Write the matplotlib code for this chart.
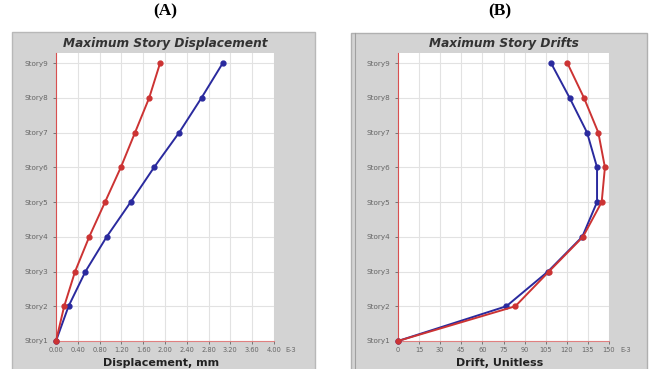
import matplotlib.pyplot as plt
from matplotlib.patches import Rectangle

# Story levels and results
stories = ['Story1', 'Story2', 'Story3', 'Story4', 'Story5', 'Story6', 'Story7', 'Story8', 'Story9']
levels = [1, 2, 3, 4, 5, 6, 7, 8, 9]

# (A) Maximum story displacement, E-3
disp_red = [0.00, 0.15, 0.35, 0.61, 0.90, 1.19, 1.45, 1.71, 1.91]
disp_blue = [0.00, 0.23, 0.54, 0.93, 1.37, 1.80, 2.26, 2.67, 3.06]
disp_ticks = [0.0, 0.4, 0.8, 1.2, 1.6, 2.0, 2.4, 2.8, 3.2, 3.6, 4.0]
disp_ticklabels = ['0.00', '0.40', '0.80', '1.20', '1.60', '2.00', '2.40', '2.80', '3.20', '3.60', '4.00']

# (B) Maximum story drifts, E-3
drift_red = [0.0, 83.4, 107.3, 131.5, 144.8, 147.1, 142.4, 132.2, 120.4]
drift_blue = [0.0, 77.0, 106.6, 131.0, 141.5, 141.5, 134.4, 122.0, 108.8]
drift_ticks = [0, 15, 30, 45, 60, 75, 90, 105, 120, 135, 150]
drift_ticklabels = ['0', '15', '30', '45', '60', '75', '90', '105', '120', '135', '150']

W, H = 656, 369
fig = plt.figure(figsize=(W / 100, H / 100), dpi=100)
fig.patch.set_facecolor('white')


def px_rect(x0, y0, x1, y1):
    # pixel box (top-left origin) -> figure fraction [l, b, w, h]
    return [x0 / W, 1 - y1 / H, (x1 - x0) / W, (y1 - y0) / H]


# background axes in pixel coordinates for the grey frames
bg = fig.add_axes([0, 0, 1, 1], zorder=-1)
bg.set_xlim(0, W)
bg.set_ylim(H, 0)
bg.axis('off')
bg.add_patch(Rectangle((12, 32), 303, 345, facecolor='#d3d3d3', edgecolor='#b8b8b8', lw=1.0))
bg.add_patch(Rectangle((351, 33), 296, 345, facecolor='#d3d3d3', edgecolor='#b0b0b0', lw=1.0))
bg.plot([355, 355], [33, H], color='#a0a0a0', lw=0.8)

red = '#cc3333'
blue = '#2a2a9e'


def panel(rect, xs_red, xs_blue, ticks, ticklabels, xmax, title, xlabel):
    ax = fig.add_axes(px_rect(*rect))
    ax.set_facecolor('white')
    ax.plot(xs_blue, levels, color=blue, lw=1.4, marker='o', ms=3.5, clip_on=False, zorder=3)
    ax.plot(xs_red, levels, color=red, lw=1.4, marker='o', ms=3.5, clip_on=False, zorder=4)
    ax.set_xlim(0, xmax)
    ax.set_ylim(1, 9.29)
    ax.set_xticks(ticks)
    ax.set_xticklabels(ticklabels)
    ax.set_yticks(levels)
    ax.set_yticklabels(stories)
    ax.grid(True, color='#e2e2e2', lw=0.8)
    ax.set_axisbelow(True)
    for s in ['top', 'right']:
        ax.spines[s].set_visible(False)
    ax.spines['left'].set_color('#d85050')
    ax.spines['bottom'].set_color('#e08080')
    ax.tick_params(labelsize=4.8, colors='#666666', length=2.5, width=0.6, pad=2)
    ax.tick_params(axis='y', labelsize=5.2, pad=3)
    width_px = rect[2] - rect[0]
    height_px = rect[3] - rect[1]
    ax.text(1 + 11 / width_px, -8.5 / height_px, 'E-3', transform=ax.transAxes, fontsize=4.8,
            color='#666666', ha='left', va='center')
    cx = (rect[0] + rect[2]) / 2
    fig.text(cx / W, 1 - 43 / H, title, ha='center', va='center', fontsize=8.7,
             fontweight='bold', fontstyle='italic', color='#333333')
    fig.text((cx - 4) / W, 1 - 363 / H, xlabel, ha='center', va='center', fontsize=8,
             fontweight='bold', color='#222222')
    return ax


panel((56, 53, 274, 341), disp_red, disp_blue, disp_ticks, disp_ticklabels, 4.0,
      'Maximum Story Displacement', 'Displacement, mm')
panel((398, 53, 609, 341), drift_red, drift_blue, drift_ticks, drift_ticklabels, 150,
      'Maximum Story Drifts', 'Drift, Unitless')

fig.text(165 / W, 1 - 11 / H, '(A)', ha='center', va='center', fontsize=12.5,
         fontweight='bold', family='Liberation Serif')
fig.text(500 / W, 1 - 11 / H, '(B)', ha='center', va='center', fontsize=12.5,
         fontweight='bold', family='Liberation Serif')

fig.savefig('out.png', dpi=100)
